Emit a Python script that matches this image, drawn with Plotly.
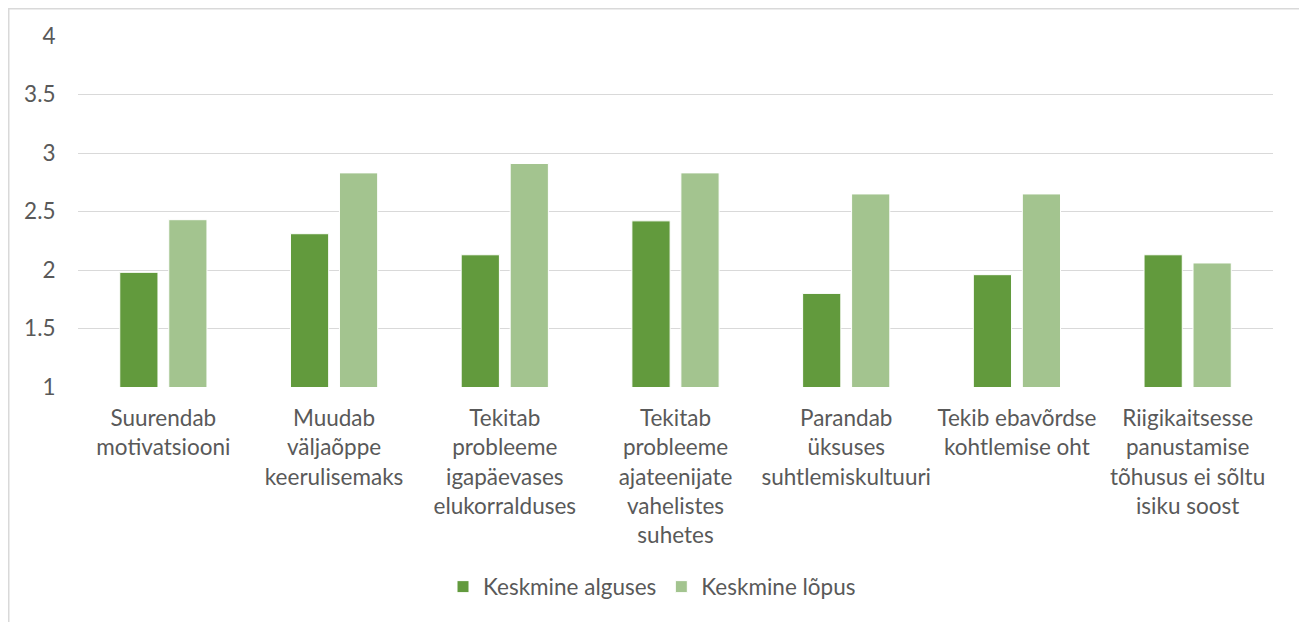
import plotly.graph_objects as go

categories = [
    "Suurendab<br>motivatsiooni",
    "Muudab<br>väljaõppe<br>keerulisemaks",
    "Tekitab<br>probleeme<br>igapäevases<br>elukorralduses",
    "Tekitab<br>probleeme<br>ajateenijate<br>vahelistes<br>suhetes",
    "Parandab<br>üksuses<br>suhtlemiskultuuri",
    "Tekib ebavõrdse<br>kohtlemise oht",
    "Riigikaitsesse<br>panustamise<br>tõhusus ei sõltu<br>isiku soost",
]
alguses = [1.98, 2.31, 2.13, 2.42, 1.80, 1.96, 2.13]
lopus = [2.43, 2.83, 2.91, 2.83, 2.65, 2.65, 2.06]
series_names = ["Keskmine alguses", "Keskmine lõpus"]
colors = ["#629A3D", "#A3C48F"]

# page has an 8px body margin; figure coordinates = page - 8
OFF = 8
W, H = 1307, 622
ML = 78 - OFF
MT = 36 - OFF
PR = 1273 - OFF
PB = 387 - OFF
MR = W - PR
MB = H - PB
FONT = "Lato"
TXT = "#595959"
FS = 22.5

fig = go.Figure()
for name, vals, col in zip(series_names, [alguses, lopus], colors):
    fig.add_trace(go.Bar(
        x=categories, y=vals, name=name,
        marker=dict(color=col, line=dict(color="white", width=1)),
    ))

pw = W - ML - MR
ph = H - MT - MB
def px_x(p):
    return (p - OFF - ML) / pw
def px_y(p):
    return 1 - (p - OFF - MT) / ph

fig.update_layout(
    width=W, height=H,
    margin=dict(l=ML, r=MR, t=MT, b=MB, pad=0),
    paper_bgcolor="white", plot_bgcolor="white",
    barmode="group", bargap=0.426, bargroupgap=0.22,
    font=dict(family=FONT, size=FS, color=TXT),
    showlegend=True,
    legend=dict(orientation="h", x=px_x(652), xanchor="center", y=px_y(587), yanchor="middle",
                font=dict(size=FS, color=TXT), itemwidth=30, tracegroupgap=0,
                bgcolor="rgba(0,0,0,0)"),
    xaxis=dict(showgrid=False, showline=False, ticks="outside", ticklen=11,
               tickcolor="rgba(0,0,0,0)", tickangle=0,
               tickfont=dict(size=FS, color=TXT)),
    yaxis=dict(range=[1, 4], dtick=0.5, tick0=1, showgrid=True, gridcolor="#D9D9D9",
               gridwidth=1, zeroline=False, showline=False, ticks="outside",
               ticklen=17, tickcolor="rgba(0,0,0,0)",
               tickfont=dict(size=FS, color=TXT)),
    shapes=[dict(type="rect", xref="paper", yref="paper",
                 x0=px_x(8.75), x1=px_x(1300), y0=px_y(660), y1=px_y(8.75),
                 line=dict(color="#D9D9D9", width=1.5), fillcolor="rgba(0,0,0,0)", layer="below")],
)

fig.write_html("out.html")
